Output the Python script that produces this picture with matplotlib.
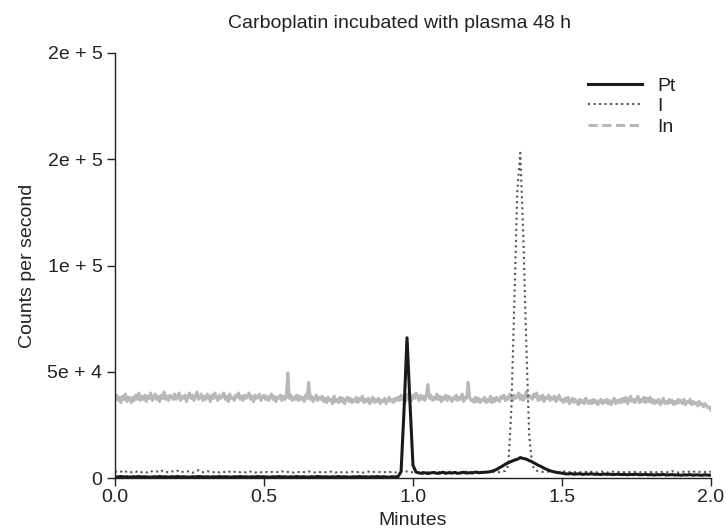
import numpy as np
import matplotlib.pyplot as plt
from matplotlib.lines import Line2D

plt.rcParams['font.family'] = ['Liberation Sans', 'DejaVu Sans']

# sampling times (minutes): Pt and I every 0.01 min, In every 0.005 min
minutes = np.linspace(0.0, 2.0, 201)
in_minutes = np.linspace(0.0, 2.0, 401)

# In signal, thousands of counts per second
in_k = [
    37, 39, 36.5, 38, 35.5, 38.5, 37, 39.5, 36, 38,
    37.5, 35.5, 38, 36.5, 39, 37, 40, 36.5, 38.5, 37,
    39, 36, 38.5, 37.5, 40, 36.5, 38, 39.5, 37, 38.5,
    36, 39, 37.5, 40.5, 37, 38.5, 36.5, 39, 38, 37,
    39.5, 37, 38, 40, 36.5, 38.5, 37.5, 39, 36, 38.5,
    40, 37.5, 39, 36.5, 38.5, 40.5, 37, 38, 39.5, 36.5,
    38.5, 37, 39.5, 38, 36, 39, 37.5, 40, 38, 36.5,
    39, 37.5, 38.5, 40, 37, 38.5, 36, 39.5, 37.5, 38,
    36.5, 39, 38, 40, 37, 38.5, 36.5, 39, 37.5, 38.5,
    40, 37, 38.5, 36, 39, 37.5, 38, 39.5, 36.5, 38,
    39, 37, 38.5, 36.5, 38, 39.5, 37, 38.5, 36, 38,
    37.5, 39, 36.5, 38.5, 37, 38, 49.5, 37.5, 39, 36.5,
    38, 37, 39, 36.5, 38.5, 37, 38, 36, 39, 37.5,
    45, 37, 38.5, 36, 37.5, 39, 36.5, 38, 37, 38.5,
    36, 37.5, 35.5, 38, 36.5, 37, 35, 38.5, 36, 37,
    35.5, 38, 36, 37.5, 35, 37, 38, 36, 37.5, 35.5,
    37, 36, 38, 35.5, 37.5, 36.5, 38.5, 35.5, 37, 36,
    37.5, 35, 36.5, 38, 35.5, 37, 36, 37.5, 35, 36.5,
    36, 37.5, 35, 36.5, 38, 36, 37, 35.5, 37.5, 36.5,
    38, 36.5, 39, 37, 38.5, 36, 39.5, 37, 38, 36.5,
    39, 37.5, 40, 38, 36.5, 39, 37, 38.5, 36.5, 39.5,
    44, 37.5, 39, 36.5, 38, 37, 39.5, 37, 38.5, 36,
    38, 37, 39, 36.5, 38.5, 37.5, 36, 38, 37, 39,
    36.5, 38, 37, 39.5, 36, 38, 37.5, 45, 38, 36.5,
    37, 35.5, 38, 36, 37.5, 35.5, 37, 36.5, 38, 35.5,
    37, 36, 38.5, 35.5, 37.5, 36, 38, 37, 36, 38.5,
    37.5, 39, 36.5, 38, 37, 39.5, 38, 36.5, 39, 37.5,
    38.5, 40, 37, 39, 36.5, 38, 40.5, 37.5, 39, 38,
    37, 39.5, 38, 40, 36.5, 38.5, 37, 39, 36, 38,
    37.5, 39, 36.5, 38, 37, 38.5, 36, 37.5, 39, 36.5,
    37, 35.5, 37.5, 36, 38, 35, 36.5, 37.5, 35.5, 37,
    36, 34.5, 37, 35.5, 36.5, 35, 37.5, 36, 35, 36.5,
    35, 37, 35.5, 36.5, 34.5, 36, 37, 35, 36.5, 35.5,
    37, 35, 36.5, 34.5, 36, 37.5, 35, 36.5, 35.5, 37,
    35.5, 37.5, 36, 38, 35, 36.5, 38.5, 36, 37, 35.5,
    37, 38.5, 35.5, 37, 36, 38, 35.5, 37.5, 36, 38,
    35.5, 37, 35, 36.5, 35.5, 37, 34.5, 36, 37.5, 35,
    36, 35, 37, 35.5, 36.5, 34.5, 36, 35, 37, 35.5,
    36.5, 35, 37, 34.5, 36, 35.5, 37, 34.5, 36, 35,
    35.5, 34, 36, 34.5, 35, 33.5, 35, 34, 33, 33.5,
    32,
]

# Pt signal, thousands of counts per second
pt_k = [
    0.6, 0.5, 0.7, 0.5, 0.6, 0.4, 0.6, 0.5, 0.7, 0.5,
    0.6, 0.5, 0.4, 0.6, 0.5, 0.7, 0.5, 0.6, 0.4, 0.6,
    0.5, 0.7, 0.5, 0.6, 0.5, 0.4, 0.6, 0.5, 0.7, 0.6,
    0.5, 0.6, 0.4, 0.6, 0.5, 0.7, 0.5, 0.6, 0.5, 0.4,
    0.6, 0.5, 0.7, 0.5, 0.6, 0.4, 0.6, 0.5, 0.7, 0.5,
    0.6, 0.5, 0.4, 0.6, 0.5, 0.7, 0.5, 0.6, 0.4, 0.6,
    0.5, 0.7, 0.5, 0.6, 0.5, 0.4, 0.6, 0.5, 0.7, 0.6,
    0.5, 0.6, 0.4, 0.6, 0.5, 0.7, 0.5, 0.6, 0.5, 0.4,
    0.6, 0.5, 0.7, 0.5, 0.6, 0.4, 0.6, 0.5, 0.7, 0.5,
    0.6, 0.5, 0.4, 0.6, 0.5, 0.7,
    3, 32, 66, 35, 6, 2.8, 2.4,
    2.2, 2.5, 2.1, 2.4, 2.6, 2.2, 2.3, 2.7, 2.2, 2.5,
    2.3, 2.6, 2.2, 2.4, 2.7, 2.3, 2.5, 2.4, 2.8, 2.5,
    2.6, 2.7,
    2.8, 3.0, 3.4, 4.0, 4.8, 5.6, 6.5, 7.2, 7.8, 8.4,
    8.8, 9.6, 9.2, 8.9, 8.2, 7.6, 6.8, 6.0, 5.4, 4.6,
    4.0, 3.4, 3.0, 2.7, 2.5, 2.3,
    2.0, 1.9, 2.1, 1.8, 1.9, 2.0, 1.7, 1.9, 1.8, 2.0,
    1.7, 1.8, 1.6, 1.9, 1.7, 1.8, 1.6, 1.7, 1.8, 1.6,
    1.7, 1.5, 1.7, 1.6, 1.8, 1.5, 1.6, 1.7, 1.5, 1.6,
    1.4, 1.6, 1.5, 1.7, 1.4, 1.5, 1.6, 1.4, 1.5, 1.3,
    1.5, 1.4, 1.6, 1.3, 1.5, 1.4, 1.3, 1.5, 1.4, 1.3,
]

# I signal, thousands of counts per second
i_k = [
    3.2, 2.6, 3.0, 3.6, 2.8, 2.4, 3.1, 2.9, 3.4, 2.7,
    3.0, 2.5, 3.3, 2.8, 3.1, 2.6, 3.5, 2.9, 2.7, 3.2,
    2.8, 3.4, 2.6, 3.0, 2.9, 3.3, 2.5, 3.1, 3.7, 2.8,
    2.6, 3.2, 2.9, 2.7, 3.1, 2.6, 3.0, 2.8, 3.3, 2.5,
    2.9, 3.1, 2.7, 3.0, 2.6, 3.2, 2.8, 2.5, 3.0, 2.7,
    3.1, 2.8, 2.6, 3.0, 2.9, 2.7, 3.2, 2.6, 2.9, 2.8,
    2.5, 3.0, 2.7, 2.9, 2.6, 3.1, 2.8, 2.6, 3.0, 2.7,
    2.9, 2.6, 3.1, 2.8, 2.5, 3.0, 2.7, 2.9, 2.6, 2.8,
    3.0, 2.7, 2.9, 2.5, 2.8, 3.0, 2.6, 2.9, 2.7, 2.8,
    2.6, 2.9, 2.7, 3.0, 2.6, 2.8, 2.9, 2.7, 3.1, 2.8,
    2.7, 3.0, 2.6, 2.8, 2.9, 2.7, 3.0, 2.6, 2.8, 2.7,
    2.9, 2.6, 3.0, 2.8, 2.7, 2.9, 2.6, 2.8, 3.0, 2.7,
    2.8, 2.6, 2.9, 2.7, 3.0, 2.8, 2.7, 2.9, 2.6, 2.8,
    3.0, 3.4,
    6, 32, 82, 135, 153, 115, 64, 20, 6, 3.8,
    3.2, 3.0, 2.8, 3.1, 2.7, 2.9, 3.0, 2.6, 2.8, 3.1,
    2.7, 2.9, 2.6, 3.0, 2.8, 2.7, 2.9, 2.6, 3.0, 2.8,
    2.7, 2.9, 3.1, 2.6, 2.8, 3.0, 2.7, 2.9, 2.6, 2.8,
    3.0, 2.7, 2.9, 2.8, 2.6, 3.0, 2.7, 2.9, 2.8, 3.1,
    2.6, 2.8, 3.0, 2.7, 2.9, 3.2, 2.8, 2.6, 3.0, 2.9,
    2.7, 3.1, 2.8, 3.3, 2.9, 3.0, 2.8, 3.1, 2.9,
]

y_ticks = [0, 50000, 100000, 150000, 200000]
y_tick_labels = ['0', '5e + 4', '1e + 5', '2e + 5', '2e + 5']
x_ticks = [0.0, 0.5, 1.0, 1.5, 2.0]
x_tick_labels = ['0.0', '0.5', '1.0', '1.5', '2.0']

pt_col = '#1a1a1a'
i_col = '#555555'
in_col = '#b8b8b8'

fig = plt.figure(figsize=(7.26, 5.31), dpi=100)
ax = fig.add_axes([0.1584, 0.0998, 0.8209, 0.8004])

ax.plot(in_minutes, np.array(in_k) * 1000, color=in_col, lw=2.2)
ax.plot(minutes, np.array(i_k) * 1000, color=i_col, lw=1.5, ls=':')
ax.plot(minutes, np.array(pt_k) * 1000, color=pt_col, lw=2.2)

ax.set_xlim(0, 2)
ax.set_ylim(0, 200000)
ax.set_xticks(x_ticks)
ax.set_xticklabels(x_tick_labels)
ax.set_yticks(y_ticks)
ax.set_yticklabels(y_tick_labels)
ax.tick_params(direction='out', length=6, width=1, labelsize=14, colors='#222222', pad=3)
ax.tick_params(axis='x', pad=2)
for side in ['top', 'right']:
    ax.spines[side].set_visible(False)
for side in ['left', 'bottom']:
    ax.spines[side].set_color('#222222')
    ax.spines[side].set_linewidth(1)

ax.set_xlabel('Minutes', fontsize=14, color='#222222', labelpad=4)
ax.set_ylabel('Counts per second', fontsize=14, color='#222222', labelpad=8)

fig.text(0.55, 0.955, 'Carboplatin incubated with plasma 48 h', fontsize=14,
         color='#222222', ha='center', va='center')

handles = [
    Line2D([], [], color=pt_col, lw=2.2),
    Line2D([], [], color=i_col, lw=1.5, ls=':'),
    Line2D([], [], color=in_col, lw=2.2, ls=(0, (3, 1.5))),
]
fig.legend(handles, ['Pt', 'I', 'In'], loc='upper left',
           bbox_to_anchor=(588 / 726, 1 - 77 / 531), frameon=False,
           fontsize=14, handlelength=2.8, handletextpad=0.75,
           labelspacing=0.15, borderpad=0, borderaxespad=0,
           labelcolor='#222222')

fig.savefig('out.png', dpi=100)
